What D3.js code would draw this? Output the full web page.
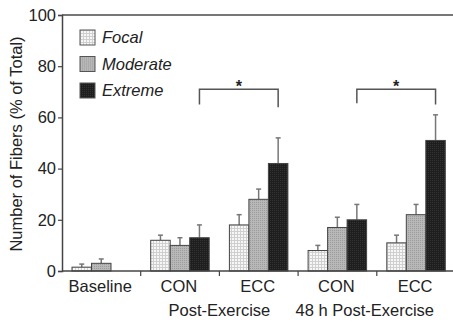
<!DOCTYPE html>
<html>
<head>
<meta charset="utf-8">
<script src="https://cdn.jsdelivr.net/npm/d3@7"></script>
<style>
  body { margin: 0; background: #fff; }
  text { font-family: "Liberation Sans", Arial, sans-serif; fill: #222; }
</style>
</head>
<body>
<div id="chart"></div>
<script>
const categories = ["Baseline", "CON", "ECC", "CON48", "ECC48"];
const catLabels = ["Baseline", "CON", "ECC", "CON", "ECC"];
const severities = ["Focal", "Moderate", "Extreme"];

const focal = [1.5, 12, 18, 8, 11];
const focalErr = [1.2, 2, 4, 2, 3];
const moderate = [3, 10, 28, 17, 22];
const moderateErr = [1.7, 3, 4, 4, 4];
const extreme = [null, 13, 42, 20, 51];
const extremeErr = [null, 5, 10, 6, 10];

const yTicks = [0, 20, 40, 60, 80, 100];

// significance brackets: from extreme bar of one group to extreme bar of another
const brackets = [
    { from: "CON", to: "ECC", top: 71, leftEnd: 65, rightEnd: 64 },
    { from: "CON48", to: "ECC48", top: 71, leftEnd: 65.5, rightEnd: 65 }
];

const width = 453;
const height = 322;
const margin = { left: 62, top: 15, bottom: 51 };

const svg = d3.select("#chart")
    .append("svg")
    .attr("width", width)
    .attr("height", height);

const defs = svg.append("defs");

// light grid pattern for focal bars
const pFocal = defs.append("pattern")
    .attr("id", "pFocal")
    .attr("width", 3).attr("height", 3)
    .attr("patternUnits", "userSpaceOnUse");
pFocal.append("rect").attr("width", 3).attr("height", 3).attr("fill", "#f7f7f7");
pFocal.append("path").attr("d", "M0,0.5H3M0.5,0V3")
    .attr("stroke", "#cfcfcf").attr("stroke-width", 1);

// dotted grey for moderate bars
const pMod = defs.append("pattern")
    .attr("id", "pMod")
    .attr("width", 2).attr("height", 2)
    .attr("patternUnits", "userSpaceOnUse");
pMod.append("rect").attr("width", 2).attr("height", 2).attr("fill", "#b8b8b8");
pMod.append("rect").attr("width", 1).attr("height", 1).attr("fill", "#9c9c9c");

// dark textured for extreme bars
const pExt = defs.append("pattern")
    .attr("id", "pExt")
    .attr("width", 2).attr("height", 2)
    .attr("patternUnits", "userSpaceOnUse");
pExt.append("rect").attr("width", 2).attr("height", 2).attr("fill", "#1e1e1e");
pExt.append("rect").attr("width", 1).attr("height", 1).attr("fill", "#333");

const fills = { Focal: "url(#pFocal)", Moderate: "url(#pMod)", Extreme: "url(#pExt)" };
const legendFills = { Focal: "url(#pFocal)", Moderate: "url(#pMod)", Extreme: "url(#pExt)" };

const x0 = d3.scaleBand()
    .domain(categories)
    .range([margin.left, 455.5]);

const x1 = d3.scaleBand()
    .domain(severities)
    .range([10, 68.5]);

const y = d3.scaleLinear()
    .domain([0, 100])
    .range([height - margin.bottom, margin.top]);

// top frame line
svg.append("line")
    .attr("x1", margin.left).attr("x2", width)
    .attr("y1", y(100)).attr("y2", y(100))
    .attr("stroke", "#777").attr("stroke-width", 2);

// y axis
const yAxis = svg.append("g")
    .attr("transform", `translate(${margin.left},0)`)
    .call(d3.axisLeft(y).tickValues(yTicks).tickSize(4).tickPadding(2));
yAxis.select(".domain").attr("stroke", "#444").attr("stroke-width", 1.5);
yAxis.selectAll(".tick line").attr("stroke", "#444").attr("stroke-width", 1.2);
yAxis.selectAll("text")
    .style("font-size", "16.5px")
    .attr("fill", "#222")
    .style("font-family", "'Liberation Sans', Arial, sans-serif");

// bars
const series = [
    { key: "Focal", vals: focal, errs: focalErr },
    { key: "Moderate", vals: moderate, errs: moderateErr },
    { key: "Extreme", vals: extreme, errs: extremeErr }
];

const barData = [];
series.forEach(s => {
    categories.forEach((c, i) => {
        if (s.vals[i] != null) {
            barData.push({ cat: c, key: s.key, value: s.vals[i], err: s.errs[i] });
        }
    });
});

const bx = d => x0(d.cat) + x1(d.key);

// error bars (drawn first so bar covers the stem)
const errG = svg.append("g");
errG.selectAll("line.stem")
    .data(barData)
    .join("line")
    .attr("class", "stem")
    .attr("x1", d => bx(d) + x1.bandwidth() / 2)
    .attr("x2", d => bx(d) + x1.bandwidth() / 2)
    .attr("y1", d => y(d.value))
    .attr("y2", d => y(d.value + d.err))
    .attr("stroke", "#777").attr("stroke-width", 1.5);
errG.selectAll("line.cap")
    .data(barData)
    .join("line")
    .attr("class", "cap")
    .attr("x1", d => bx(d) + x1.bandwidth() / 2 - 2.5)
    .attr("x2", d => bx(d) + x1.bandwidth() / 2 + 2.5)
    .attr("y1", d => y(d.value + d.err))
    .attr("y2", d => y(d.value + d.err))
    .attr("stroke", "#777").attr("stroke-width", 1.5);

svg.append("g")
    .selectAll("rect")
    .data(barData)
    .join("rect")
    .attr("x", d => bx(d))
    .attr("y", d => y(d.value))
    .attr("width", x1.bandwidth())
    .attr("height", d => y(0) - y(d.value))
    .attr("fill", d => fills[d.key])
    .attr("stroke", "#444")
    .attr("stroke-width", 1);

// x axis
const xAxis = svg.append("g")
    .attr("transform", `translate(0,${y(0)})`);
xAxis.append("line")
    .attr("x1", margin.left).attr("x2", width)
    .attr("stroke", "#444").attr("stroke-width", 1.5);
xAxis.selectAll("line.tick")
    .data(categories.slice(1))
    .join("line")
    .attr("class", "tick")
    .attr("x1", d => x0(d)).attr("x2", d => x0(d))
    .attr("y1", 0).attr("y2", 5)
    .attr("stroke", "#444").attr("stroke-width", 1.2);
xAxis.selectAll("text.cat")
    .data(categories)
    .join("text")
    .attr("class", "cat")
    .attr("x", d => x0(d) + 10 + 58.5 / 2 - 1)
    .attr("y", 21)
    .attr("text-anchor", "middle")
    .style("font-size", "16.5px")
    .text((d, i) => catLabels[i]);

// group labels
const groupLabels = [
    { text: "Post-Exercise", at: "ECC", shift: 0 },
    { text: "48 h Post-Exercise", at: "ECC48", shift: -12 }
];
svg.selectAll("text.group")
    .data(groupLabels)
    .join("text")
    .attr("class", "group")
    .attr("x", d => x0(d.at) + d.shift)
    .attr("y", y(0) + 45)
    .attr("text-anchor", "middle")
    .style("font-size", "16.5px")
    .text(d => d.text);

// y axis title
svg.append("text")
    .attr("transform", `translate(22,${y(50) + 1}) rotate(-90)`)
    .attr("text-anchor", "middle")
    .style("font-size", "16.5px")
    .text("Number of Fibers (% of Total)");

// legend
const legend = svg.append("g")
    .attr("transform", "translate(80,30)");
const li = legend.selectAll("g")
    .data(severities)
    .join("g")
    .attr("transform", (d, i) => `translate(0,${i * 26.5})`);
li.append("rect")
    .attr("width", 15).attr("height", 15)
    .attr("fill", d => legendFills[d])
    .attr("stroke", "#555").attr("stroke-width", 1);
li.append("text")
    .attr("x", 22).attr("y", 13)
    .style("font-size", "16.5px")
    .style("font-style", "italic")
    .text(d => d);

// significance brackets
const cx = c => x0(c) + x1("Extreme") + x1.bandwidth() / 2;
const bG = svg.append("g");
bG.selectAll("path")
    .data(brackets)
    .join("path")
    .attr("d", d => `M${cx(d.from)},${y(d.leftEnd)}V${y(d.top)}H${cx(d.to)}V${y(d.rightEnd)}`)
    .attr("fill", "none")
    .attr("stroke", "#555").attr("stroke-width", 1.5);
bG.selectAll("text")
    .data(brackets)
    .join("text")
    .attr("x", d => (cx(d.from) + cx(d.to)) / 2)
    .attr("y", d => y(d.top) + 3)
    .attr("text-anchor", "middle")
    .style("font-size", "16px")
    .style("font-weight", "bold")
    .text("*");
</script>
</body>
</html>
